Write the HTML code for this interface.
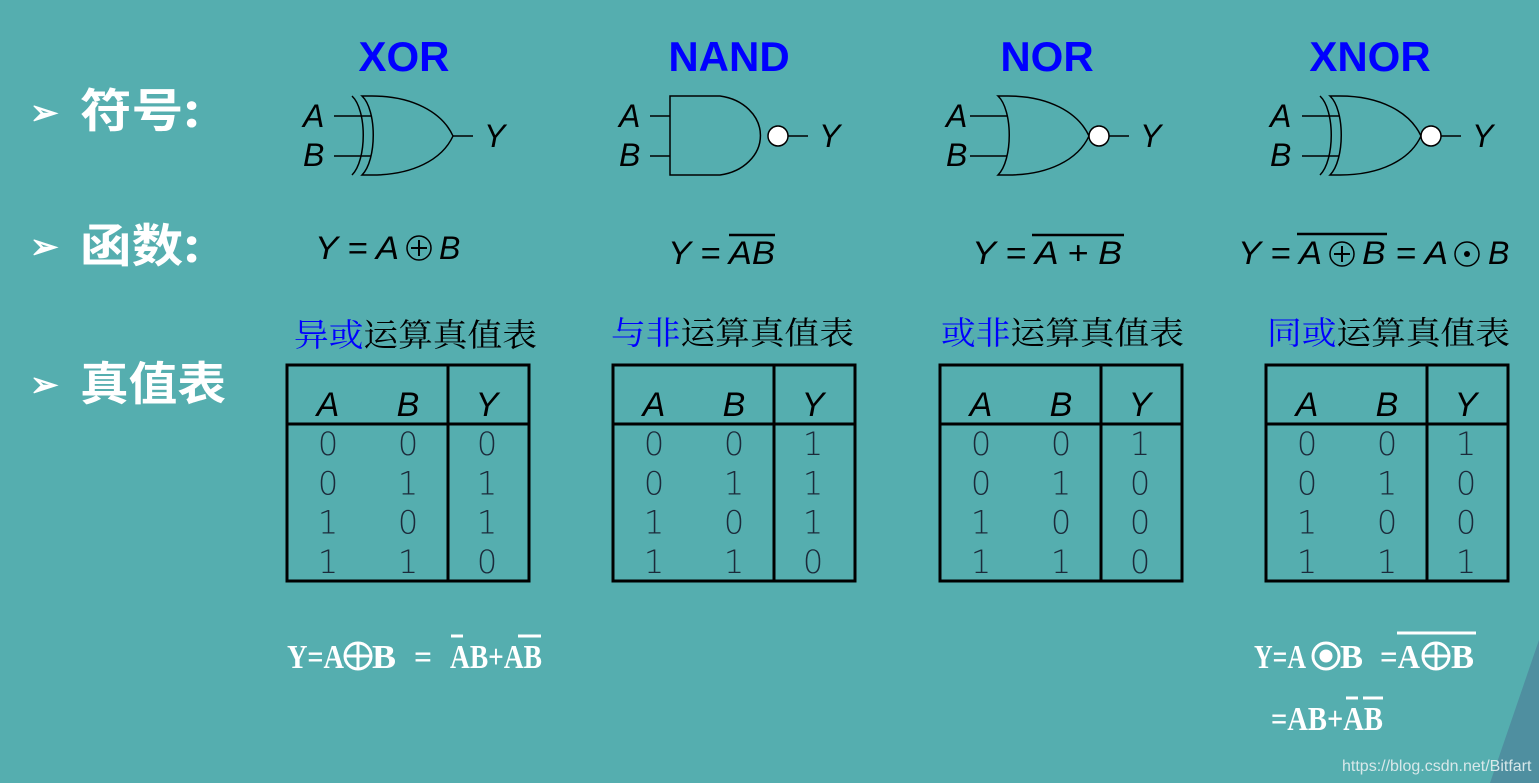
<!DOCTYPE html>
<html><head><meta charset="utf-8"><style>
html,body{margin:0;padding:0;background:#55aeaf;}
svg{display:block;}
.t{font-family:"Liberation Sans","Noto Sans CJK SC",sans-serif;}
</style></head><body>
<svg id="s" width="1539" height="783" xmlns="http://www.w3.org/2000/svg" class="t">
<rect width="1539" height="783" fill="#55aeaf"/>
<polygon points="1539,640 1490,783 1539,783" fill="#4f8fa0"/>
<g fill="#0000ff" font-weight="bold" font-size="42" text-anchor="middle">
<text x="404" y="71">XOR</text><text x="729" y="71">NAND</text><text x="1047" y="71">NOR</text><text x="1370" y="71">XNOR</text>
</g>
<g fill="#fff" font-size="46" font-family="'Noto Sans CJK SC',sans-serif" font-weight="bold">
<text x="30" y="124" font-size="34">➢</text><text x="80" y="127" textLength="120" lengthAdjust="spacingAndGlyphs">符号:</text>
<text x="30" y="258" font-size="34">➢</text><text x="80" y="262" textLength="120" lengthAdjust="spacingAndGlyphs">函数:</text>
<text x="30" y="396" font-size="34">➢</text><text x="80" y="400" textLength="146" lengthAdjust="spacingAndGlyphs">真值表</text>
</g>
<g id="gates" fill="none" stroke="#000" stroke-width="1.5"></g>
<g id="lbl" font-style="italic" font-size="32" fill="#000"></g>
<g id="tb"></g>
<g font-style="italic" font-size="32" fill="#000">
<text x="315" y="259" textLength="84" lengthAdjust="spacingAndGlyphs">Y = A</text><circle cx="419" cy="248" r="12" fill="none" stroke="#000" stroke-width="1.5"/><path d="M411 248h16M419 240v16" stroke="#000" stroke-width="2"/><text x="439" y="259">B</text>
<text x="668" y="264" textLength="107" lengthAdjust="spacingAndGlyphs">Y = AB</text><path d="M729 235h46" stroke="#000" stroke-width="2.5"/>
<text x="972" y="264" textLength="150" lengthAdjust="spacingAndGlyphs">Y = A + B</text><path d="M1032 235h92" stroke="#000" stroke-width="2.5"/>
<text x="1238" y="264" textLength="84" lengthAdjust="spacingAndGlyphs">Y = A</text><circle cx="1342" cy="254" r="12" fill="none" stroke="#000" stroke-width="1.5"/><path d="M1334 254h16M1342 246v16" stroke="#000" stroke-width="2"/><text x="1362" y="264" textLength="86" lengthAdjust="spacingAndGlyphs">B = A</text><circle cx="1467" cy="254" r="12" fill="none" stroke="#000" stroke-width="1.5"/><circle cx="1467" cy="254" r="3"/><text x="1488" y="264">B</text>
<path d="M1297 234h90" stroke="#000" stroke-width="2.5"/>
</g>
<g font-size="32" font-family="'Liberation Serif','Noto Serif CJK SC',serif">
<text x="294" y="346" textLength="243" lengthAdjust="spacingAndGlyphs"><tspan fill="#0000ff">异或</tspan><tspan fill="#000">运算真值表</tspan></text>
<text x="611" y="344" textLength="243" lengthAdjust="spacingAndGlyphs"><tspan fill="#0000ff">与非</tspan><tspan fill="#000">运算真值表</tspan></text>
<text x="941" y="344" textLength="243" lengthAdjust="spacingAndGlyphs"><tspan fill="#0000ff">或非</tspan><tspan fill="#000">运算真值表</tspan></text>
<text x="1267" y="344" textLength="243" lengthAdjust="spacingAndGlyphs"><tspan fill="#0000ff">同或</tspan><tspan fill="#000">运算真值表</tspan></text>
</g>
<g fill="#fff" font-family="'Liberation Serif',serif" font-size="34" font-weight="bold" lengthAdjust="spacingAndGlyphs">
<text x="287" y="668" textLength="57" lengthAdjust="spacingAndGlyphs">Y=A</text>
<text x="372" y="668" textLength="24" lengthAdjust="spacingAndGlyphs">B</text>
<text x="414" y="668" textLength="18" lengthAdjust="spacingAndGlyphs">=</text>
<text x="450" y="668" textLength="92" lengthAdjust="spacingAndGlyphs">AB+AB</text>
<text x="1254" y="668" textLength="52" lengthAdjust="spacingAndGlyphs">Y=A</text>
<text x="1340" y="668" textLength="23" lengthAdjust="spacingAndGlyphs">B</text>
<text x="1380" y="668" textLength="40" lengthAdjust="spacingAndGlyphs">=A</text>
<text x="1451" y="668" textLength="23" lengthAdjust="spacingAndGlyphs">B</text>
<text x="1271" y="730" textLength="112" lengthAdjust="spacingAndGlyphs">=AB+AB</text>
</g>
<g fill="none" stroke="#fff" stroke-width="3">
<circle cx="358" cy="656" r="13"/><path d="M345 656h26M358 643v26"/>
<path d="M451 636h12M518 636h23"/>
<circle cx="1326" cy="656" r="13"/><circle cx="1326" cy="656" r="5" fill="#fff"/>
<circle cx="1436" cy="656" r="13"/><path d="M1423 656h26M1436 643v26"/>
<path d="M1397 633h79M1346 698h12M1363 698h20"/>
</g>
<text x="1342" y="771" font-size="16" fill="#d8e8ea">https://blog.csdn.net/Bitfart</text>
</svg>
<script>
var NS="http://www.w3.org/2000/svg";
function el(p,t,a,txt){var e=document.createElementNS(NS,t);for(var k in a)e.setAttribute(k,a[k]);if(txt!=null)e.textContent=txt;p.appendChild(e);return e;}
var g=document.getElementById('gates'),l=document.getElementById('lbl');
function orBody(x){return "M"+x+" 96 C"+(x+15)+" 110 "+(x+15)+" 160 "+x+" 175 L"+(x+10)+" 175 C"+(x+50)+" 175 "+(x+80)+" 160 "+(x+91)+" 136 C"+(x+80)+" 112 "+(x+50)+" 96 "+(x+10)+" 96 Z";}
function gate(type,x,lx){
 var tip;
 if(type=='and'){el(g,'path',{d:"M"+x+" 96 H"+(x+50)+" A48 40 0 0 1 "+(x+50)+" 175 H"+x+" Z"});tip=x+98;
  el(g,'line',{x1:x-20,y1:116,x2:x,y2:116});el(g,'line',{x1:x-20,y1:156,x2:x,y2:156});}
 else{el(g,'path',{d:orBody(x)});tip=x+91;
  el(g,'line',{x1:x-28,y1:116,x2:x+9,y2:116});el(g,'line',{x1:x-28,y1:156,x2:x+9,y2:156});
  if(type=='xor'||type=='xnor')el(g,'path',{d:"M"+(x-10)+" 96 C"+(x+5)+" 110 "+(x+5)+" 160 "+(x-10)+" 175"});}
 var out=tip;
 if(type!='xor'){el(g,'circle',{cx:tip+10,cy:136,r:10,fill:"#fff"});out=tip+20;}
 el(g,'line',{x1:out,y1:136,x2:out+20,y2:136});
 el(l,'text',{x:lx,y:127},'A');el(l,'text',{x:lx,y:166},'B');el(l,'text',{x:out+31,y:147},'Y');
}
gate('xor',362,303);gate('and',670,619);gate('or',998,946);gate('xnor',1330,1270);
var tb=document.getElementById('tb');
var Ys=[[0,1,1,0],[1,1,1,0],[1,0,0,0],[1,0,0,1]];
[287,613,940,1266].forEach(function(x,i){
 el(tb,'rect',{x:x,y:365,width:242,height:216,fill:"none",stroke:"#000","stroke-width":3});
 el(tb,'line',{x1:x,y1:424,x2:x+242,y2:424,stroke:"#000","stroke-width":3});
 el(tb,'line',{x1:x+161,y1:365,x2:x+161,y2:581,stroke:"#000","stroke-width":3});
 [['A',x+41],['B',x+121],['Y',x+200]].forEach(function(h){el(tb,'text',{x:h[1],y:416,"text-anchor":"middle","font-size":34,"font-style":"italic",fill:"#000"},h[0]);});
 var A=[0,0,1,1],B=[0,1,0,1];
 for(var r=0;r<4;r++){var y=455+r*39.3;
  [[A[r],x+41],[B[r],x+121],[Ys[i][r],x+200]].forEach(function(c){el(tb,'text',{x:c[1],y:y,"text-anchor":"middle","font-size":32,fill:"#1b2a3a","font-family":"'DejaVu Sans',sans-serif","font-weight":"200"},String(c[0]));});}
});
</script>
</body></html>
